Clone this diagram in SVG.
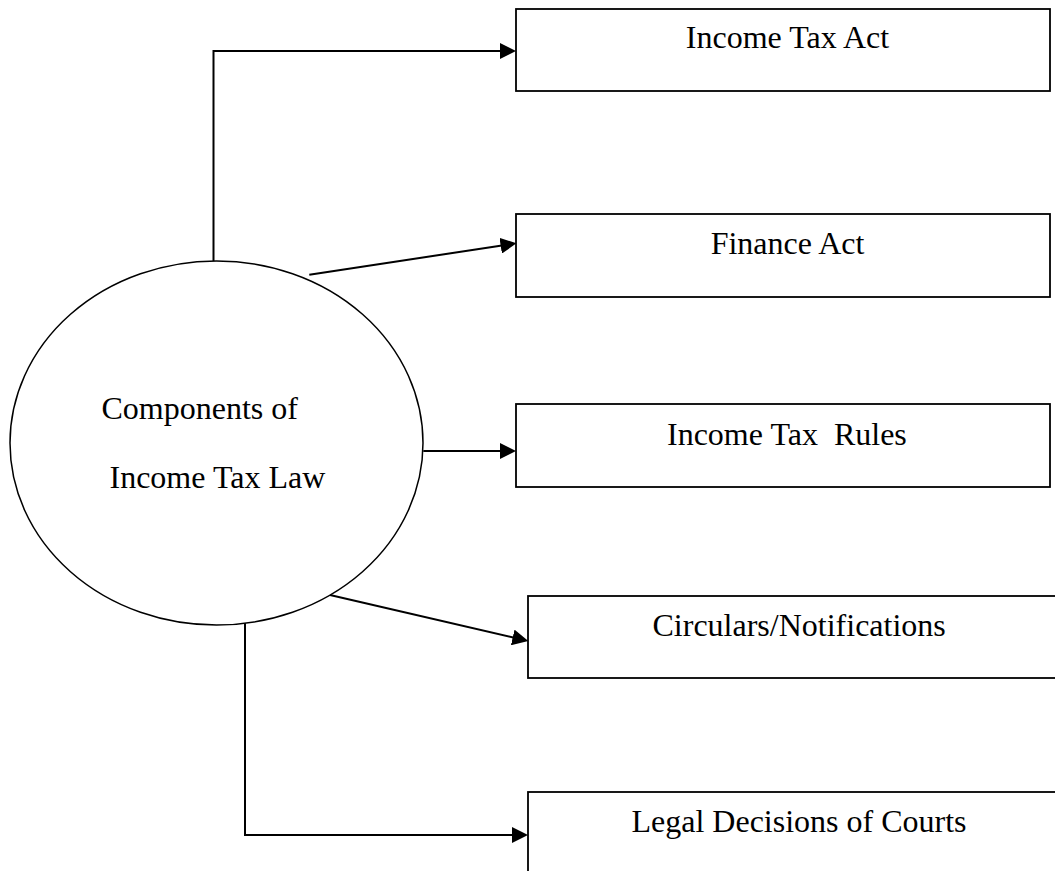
<svg xmlns="http://www.w3.org/2000/svg" width="1055" height="871" viewBox="0 0 1055 871">
<style>
.box{fill:#fff;stroke:#000;stroke-width:1.8}
.ell{fill:#fff;stroke:#000;stroke-width:1.5}
.t{font-family:"Liberation Serif","Times New Roman",serif;font-size:32px;fill:#000}
.c{text-anchor:middle}
.con{fill:none;stroke:#000;stroke-width:2}
</style>
<defs>
<marker id="arr" markerUnits="userSpaceOnUse" markerWidth="16" markerHeight="16" refX="8" refY="8" orient="auto">
<path d="M0,0 L16,8 L0,16 z" fill="#000"/>
</marker>
</defs>
<rect width="1055" height="871" fill="#fff"/>
<g id="connectors">
<path class="con" d="M213.5,261 V51 H508" marker-end="url(#arr)"/>
<path class="con" d="M309.3,274.7 L508.6,244.5" marker-end="url(#arr)"/>
<path class="con" d="M423.3,451 H508" marker-end="url(#arr)"/>
<path class="con" d="M330,595 L520.5,639.2" marker-end="url(#arr)"/>
<path class="con" d="M245,623 V835 H520" marker-end="url(#arr)"/>
</g>
<g id="center">
<ellipse class="ell" cx="216.5" cy="443" rx="206.5" ry="182"/>
<text class="t" x="101.5" y="419">Components of</text>
<text class="t" x="109.5" y="488">Income Tax Law</text>
</g>
<g id="income-tax-act">
<rect class="box" x="516" y="9" width="534" height="82"/>
<text class="t c" x="787.5" y="48">Income Tax Act</text>
</g>
<g id="finance-act">
<rect class="box" x="516" y="214" width="534" height="83"/>
<text class="t c" x="787.5" y="254">Finance Act</text>
</g>
<g id="income-tax-rules">
<rect class="box" x="516" y="404" width="534" height="83"/>
<text class="t" x="667" y="445" xml:space="preserve">Income Tax  Rules</text>
</g>
<g id="circulars">
<rect class="box" x="528" y="596" width="545" height="82"/>
<text class="t" x="652.5" y="636">Circulars/Notifications</text>
</g>
<g id="legal-decisions">
<rect class="box" x="528" y="792" width="545" height="100"/>
<text class="t" x="631.5" y="832">Legal Decisions of Courts</text>
</g>
</svg>
